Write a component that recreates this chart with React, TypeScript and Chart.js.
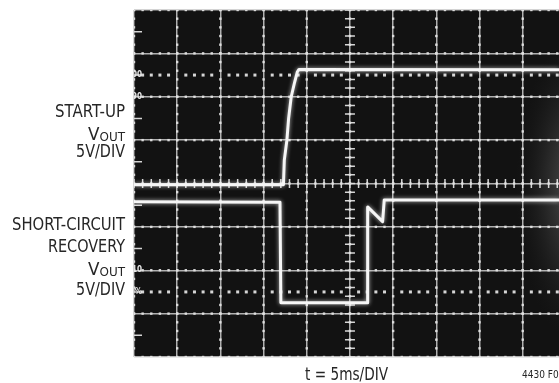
import React, { useEffect, useRef } from "react";
import { Chart, registerables } from "chart.js";

Chart.register(...registerables);

// Time axis in ms (5 ms/div), vertical axis in screen divisions (0 = bottom, 8 = top)
const startupTimeMs = [0, 17.3, 17.4, 17.7, 17.9, 18.2, 18.6, 18.9, 19.1, 49.2];
const startupDiv = [3.97, 3.97, 4.54, 5.0, 5.5, 6.0, 6.34, 6.57, 6.63, 6.62];

const shortTimeMs = [0, 16.9, 17.0, 27.0, 27.05, 28.78, 28.97, 49.2];
const shortDiv = [3.58, 3.57, 1.25, 1.25, 3.46, 3.12, 3.62, 3.62];

const xTicksMs = [0, 5, 10, 15, 20, 25, 30, 35, 40, 45];
const yTicksDiv = [0, 1, 2, 3, 4, 5, 6, 7, 8];
const dottedLevelsDiv = [6.5, 1.5];
const scopeLabels = ["100", "90", "10", "0%"];
const scopeLabelLevels = [6.5, 6, 2, 1.5];

const startupLabel = ["START-UP", "V|OUT", "5V/DIV"];
const shortLabel = ["SHORT-CIRCUIT", "RECOVERY", "V|OUT", "5V/DIV"];
const xTitle = "t = 5ms/DIV";
const figId = "4430 F08";

const FONT = '"Liberation Sans Narrow", "DejaVu Sans Condensed", "Liberation Sans", sans-serif';

function fitText(ctx: any, t: string, right: number, y: number, width: number) {
  ctx.font = "17.5px " + FONT;
  if (t.includes("|")) {
    const [main, sub] = t.split("|");
    const w1 = ctx.measureText(main).width;
    ctx.font = "12.5px " + FONT;
    const w2 = ctx.measureText(sub).width;
    const s = width / (w1 + w2);
    ctx.save();
    ctx.translate(right - width, y);
    ctx.scale(s, 1);
    ctx.textAlign = "left";
    ctx.font = "17.5px " + FONT;
    ctx.fillText(main, 0, 0);
    ctx.font = "12.5px " + FONT;
    ctx.fillText(sub, w1, 1);
    ctx.restore();
  } else {
    const w = ctx.measureText(t).width;
    const s = width / w;
    ctx.save();
    ctx.translate(right - width, y);
    ctx.scale(s, 1);
    ctx.textAlign = "left";
    ctx.fillText(t, 0, 0);
    ctx.restore();
  }
}

const scopePlugin = {
  id: "scope",
  beforeDraw(chart: any) {
    const { ctx, chartArea: a } = chart;
    ctx.save();
    ctx.fillStyle = "#121212";
    ctx.fillRect(a.left, a.top, a.right - a.left, a.bottom - a.top);
    ctx.beginPath();
    ctx.rect(a.left, a.top, a.right - a.left, a.bottom - a.top);
    ctx.clip();
    ctx.translate(a.right + 22, (a.top + a.bottom) / 2 + 5);
    ctx.scale(1, 2.4);
    const g = ctx.createRadialGradient(0, 0, 0, 0, 0, 65);
    g.addColorStop(0, "rgba(150,150,150,0.6)");
    g.addColorStop(0.55, "rgba(100,100,100,0.25)");
    g.addColorStop(1, "rgba(40,40,40,0)");
    ctx.fillStyle = g;
    ctx.fillRect(-120, -120, 240, 240);
    ctx.restore();
  },
  beforeDatasetsDraw(chart: any) {
    const { ctx, chartArea: a, scales } = chart;
    const xs = scales.x;
    const ys = scales.y;
    const pxDivX = xs.getPixelForValue(5) - xs.getPixelForValue(0);
    const pxDivY = ys.getPixelForValue(0) - ys.getPixelForValue(1);
    ctx.save();
    ctx.beginPath();
    ctx.rect(a.left, a.top, a.right - a.left, a.bottom - a.top);
    ctx.clip();
    ctx.fillStyle = "rgba(225,225,225,0.95)";
    for (const yv of yTicksDiv) {
      const py = ys.getPixelForValue(yv);
      for (let x = a.left; x <= a.right; x += pxDivX / 5) {
        ctx.fillRect(x - 1.2, py - 1.2, 2.4, 2.4);
      }
    }
    for (const xv of xTicksMs) {
      const px = xs.getPixelForValue(xv);
      for (let y = a.top; y <= a.bottom; y += pxDivY / 5) {
        ctx.fillRect(px - 1.2, y - 1.2, 2.4, 2.4);
      }
    }
    for (const lv of dottedLevelsDiv) {
      const py = ys.getPixelForValue(lv);
      for (const xv of xTicksMs) {
        const px = xs.getPixelForValue(xv);
        for (let k = 1; k <= 4; k++) {
          ctx.fillRect(px + (k * pxDivX) / 5 - 1.5, py - 1.5, 3, 3);
        }
      }
    }
    ctx.strokeStyle = "rgba(225,225,225,0.95)";
    ctx.lineWidth = 1.5;
    const cx = xs.getPixelForValue(25);
    const cy = ys.getPixelForValue(4);
    ctx.beginPath();
    for (let y = a.top; y <= a.bottom + 0.5; y += pxDivY / 5) {
      ctx.moveTo(cx - 5, y);
      ctx.lineTo(cx + 5, y);
    }
    for (let x = a.left; x <= a.right; x += pxDivX / 5) {
      ctx.moveTo(x, cy - 4.5);
      ctx.lineTo(x, cy + 4.5);
    }
    for (let i = 0; i < 8; i++) {
      const y = ys.getPixelForValue(i + 0.5);
      ctx.moveTo(a.left, y);
      ctx.lineTo(a.left + 8, y);
    }
    ctx.stroke();
    ctx.fillStyle = "#e8e8e8";
    ctx.font = "bold 8px " + FONT;
    ctx.textAlign = "right";
    ctx.textBaseline = "middle";
    scopeLabels.forEach((t, i) => {
      ctx.fillText(t, a.left + 8, ys.getPixelForValue(scopeLabelLevels[i]));
    });
    ctx.restore();
    ctx.save();
    ctx.shadowColor = "rgba(255,255,255,0.7)";
    ctx.shadowBlur = 4;
  },
  afterDatasetsDraw(chart: any) {
    chart.ctx.restore();
  },
  afterDraw(chart: any) {
    const { ctx, chartArea: a } = chart;
    ctx.save();
    ctx.fillStyle = "#262626";
    ctx.textBaseline = "alphabetic";
    const right = a.left - 9;
    const w1 = [70, 37, 49];
    const b1 = [117, 140, 157];
    startupLabel.forEach((t, i) => fitText(ctx, t, right, b1[i], w1[i]));
    const w2 = [113, 77, 37, 49];
    const b2 = [230, 252, 275, 295];
    shortLabel.forEach((t, i) => fitText(ctx, t, right, b2[i], w2[i]));
    fitText(ctx, xTitle, 388, 380, 83);
    ctx.font = "10px " + FONT;
    ctx.textAlign = "left";
    ctx.fillText(figId, 522, 378);
    ctx.restore();
  },
};

export default function App() {
  const ref = useRef<HTMLCanvasElement | null>(null);
  useEffect(() => {
    if (!ref.current) return;
    const trace = (xs: number[], ys: number[]) => xs.map((x, i) => ({ x, y: ys[i] }));
    const chart = new Chart(ref.current, {
      type: "line",
      data: {
        datasets: [
          {
            label: "Start-up",
            data: trace(startupTimeMs, startupDiv),
            borderColor: "#f6f6f6",
            borderWidth: 3,
            pointRadius: 0,
            tension: 0,
            borderJoinStyle: "round",
          },
          {
            label: "Short-circuit recovery",
            data: trace(shortTimeMs, shortDiv),
            borderColor: "#f6f6f6",
            borderWidth: 3,
            pointRadius: 0,
            tension: 0,
            borderJoinStyle: "round",
          },
        ],
      },
      options: {
        animation: false,
        responsive: false,
        devicePixelRatio: 1,
        layout: { padding: { left: 134, top: 10, right: 0, bottom: 26 } },
        plugins: { legend: { display: false }, tooltip: { enabled: false } },
        scales: {
          x: {
            type: "linear",
            min: 0,
            max: 49.2,
            afterBuildTicks: (s: any) => {
              s.ticks = xTicksMs.map((v) => ({ value: v }));
            },
            ticks: { display: false },
            border: { display: false },
            grid: { color: "rgba(205,205,205,0.85)", lineWidth: 1.5, drawTicks: false },
          },
          y: {
            type: "linear",
            min: 0,
            max: 8,
            afterBuildTicks: (s: any) => {
              s.ticks = yTicksDiv.map((v) => ({ value: v }));
            },
            ticks: { display: false },
            border: { display: false },
            grid: { color: "rgba(205,205,205,0.85)", lineWidth: 1.5, drawTicks: false },
          },
        },
      },
      plugins: [scopePlugin],
    } as any);
    return () => chart.destroy();
  }, []);
  return (
    <div style={{ position: "fixed", left: 0, top: 0, width: 559, height: 383, background: "#fff" }}>
      <canvas ref={ref} width={559} height={383} style={{ width: 559, height: 383, display: "block" }} />
    </div>
  );
}
